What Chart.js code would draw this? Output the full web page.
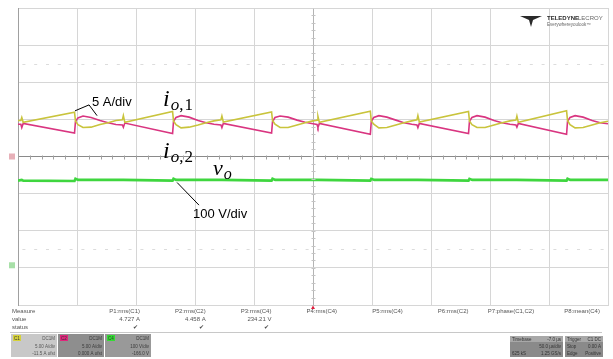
<!DOCTYPE html>
<html>
<head>
<meta charset="utf-8">
<script src="https://cdn.jsdelivr.net/npm/chart.js@4.4.1/dist/chart.umd.min.js"></script>
<style>
  html, body { margin: 0; padding: 0; background: #fff; }
  #scope { display: block; }
</style>
</head>
<body>
<canvas id="scope" width="613" height="359"></canvas>
<script>
// time axis in microseconds (50 us/div, 10 div), traces in screen divisions (8 div)
const timeUs = [
  0, 2.4, 3.2, 4.4, 47.9,
  48.7, 50.8, 55.1, 61.9, 69.5, 76.3, 83.0, 88.5, 89.3, 90.5, 131.0,
  131.8, 133.9, 138.2, 145.0, 152.6, 159.4, 166.1, 172.0, 172.8, 174.0, 214.9,
  215.7, 217.8, 222.1, 228.9, 236.5, 243.3, 250.0, 253.4, 254.2, 255.4, 298.6,
  299.4, 301.5, 305.8, 312.6, 320.2, 327.0, 333.7, 338.1, 338.9, 340.1, 381.8,
  382.6, 384.7, 389.0, 395.8, 403.4, 410.2, 416.9, 422.0, 422.8, 424.0, 464.9,
  465.7, 467.8, 472.1, 478.9, 486.5, 493.3, 500
];
// io,1 (C1, yellow)
const io1Div = [
  0.97, 0.97, 1.05, 0.92, 1.19,
  0.96, 0.86, 0.78, 0.79, 0.86, 0.91, 0.97, 0.99, 1.10, 0.92, 1.21,
  0.96, 0.86, 0.77, 0.79, 0.85, 0.91, 0.96, 0.99, 1.09, 0.93, 1.20,
  0.97, 0.87, 0.78, 0.78, 0.85, 0.91, 0.96, 0.98, 1.08, 0.92, 1.22,
  0.96, 0.87, 0.77, 0.78, 0.85, 0.91, 0.96, 0.99, 1.10, 0.93, 1.21,
  0.96, 0.86, 0.78, 0.78, 0.85, 0.91, 0.96, 0.98, 1.09, 0.92, 1.23,
  0.97, 0.86, 0.77, 0.78, 0.85, 0.91, 0.95
];
// io,2 (C2, pink)
const io2Div = [
  0.87, 0.87, 0.78, 0.89, 0.63,
  0.94, 1.04, 1.09, 1.05, 0.97, 0.91, 0.86, 0.85, 0.79, 0.90, 0.62,
  0.95, 1.05, 1.10, 1.06, 0.97, 0.91, 0.87, 0.85, 0.78, 0.89, 0.63,
  0.94, 1.05, 1.09, 1.06, 0.98, 0.92, 0.88, 0.86, 0.78, 0.89, 0.60,
  0.95, 1.05, 1.10, 1.06, 0.98, 0.91, 0.87, 0.85, 0.78, 0.89, 0.62,
  0.95, 1.05, 1.10, 1.06, 0.97, 0.91, 0.87, 0.85, 0.79, 0.89, 0.60,
  0.95, 1.05, 1.10, 1.06, 0.97, 0.91, 0.88
];
// vo (C4, green)
const timeVo = [0, 3.2, 4.4, 47.9, 48.7, 51, 89.3, 131.0, 131.8, 134, 172.8, 214.9, 215.7, 218,
  254.2, 298.6, 299.4, 302, 338.9, 381.8, 382.6, 385, 422.8, 464.9, 465.7, 468, 500];
const voDiv = [-0.65, -0.63, -0.65, -0.66, -0.60, -0.63, -0.63, -0.65, -0.60, -0.63, -0.63, -0.65, -0.60, -0.63,
  -0.63, -0.65, -0.60, -0.63, -0.63, -0.65, -0.60, -0.63, -0.63, -0.65, -0.60, -0.63, -0.63];

const measNames = ['P1:rms(C1)', 'P2:rms(C2)', 'P3:rms(C4)', 'P4:rms(C4)', 'P5:rms(C4)', 'P6:rms(C2)', 'P7:phase(C1,C2)', 'P8:mean(C4)'];
const measValues = ['4.727 A', '4.458 A', '234.21 V', '', '', '', '', ''];
const measStatus = ['\u2714', '\u2714', '\u2714', '', '', '', '', ''];

const channels = [
  { name: 'C1', color: '#d6d23a', bg: '#c8c8c8', rows: ['DC1M', '5.00 A/div', '-11.5 A ofst'] },
  { name: 'C2', color: '#e0267c', bg: '#8e8e8e', rows: ['DC1M', '5.00 A/div', '0.000 A ofst'] },
  { name: 'C4', color: '#33dd33', bg: '#999999', rows: ['DC1M', '100 V/div', '-166.0 V'] }
];

function pts(xs, ys) {
  return xs.map((x, i) => ({ x: x, y: ys[i] }));
}

const scopeDecor = {
  id: 'scopeDecor',
  afterDraw(chart) {
    const ctx = chart.ctx;
    const a = chart.chartArea;
    const xs = chart.scales.x, ys = chart.scales.y;
    const X = v => xs.getPixelForValue(v), Y = v => ys.getPixelForValue(v);
    ctx.save();

    // minor ticks on the centre cross
    ctx.lineWidth = 1;
    const cy = Math.round(Y(0)) + 0.5, cx = Math.round(X(250)) + 0.5;
    ctx.strokeStyle = '#a0a0a0';
    ctx.beginPath();
    for (let t = 0; t <= 500; t += 10) {
      const px = Math.round(X(t)) + 0.5;
      ctx.moveTo(px, cy - 2); ctx.lineTo(px, cy + 2);
    }
    ctx.stroke();
    ctx.strokeStyle = '#c4c4c4';
    ctx.beginPath();
    for (let d = -4; d <= 4; d += 0.2) {
      const py = Math.round(Y(d)) + 0.5;
      ctx.moveTo(cx - 2, py); ctx.lineTo(cx + 2, py);
    }
    ctx.stroke();

    // faint dotted rows at +/- 2.5 div
    ctx.strokeStyle = '#dcdcdc';
    ctx.beginPath();
    [2.5, -2.5].forEach(d => {
      const py = Math.round(Y(d)) + 0.5;
      for (let t = 5; t < 500; t += 10) {
        const px = X(t);
        ctx.moveTo(px - 1.5, py); ctx.lineTo(px + 1.5, py);
      }
    });
    ctx.stroke();

    // annotations
    ctx.fillStyle = '#000';
    ctx.strokeStyle = '#000';
    ctx.lineWidth = 1;
    ctx.beginPath();
    ctx.moveTo(X(48.3), Y(1.23)); ctx.lineTo(X(60.2), Y(1.39)); ctx.lineTo(X(67), Y(1.10));
    ctx.moveTo(X(134.8), Y(-0.70)); ctx.lineTo(X(153.4), Y(-1.31));
    ctx.stroke();
    ctx.font = '13px "Liberation Sans", Arial, sans-serif';
    ctx.textBaseline = 'alphabetic';
    ctx.textAlign = 'left';
    ctx.fillText('5 A/div', X(62.7), Y(1.37));
    ctx.fillText('100 V/div', X(148.3), Y(-1.66));

    function mathLabel(main, sub, x, y, size) {
      const subSize = Math.round(size * 0.72);
      ctx.font = 'italic ' + size + 'px "Liberation Serif", "DejaVu Serif", serif';
      ctx.fillText(main, x, y);
      let cxp = x + ctx.measureText(main).width + 1;
      const parts = sub.split(',');
      parts.forEach((p, i) => {
        ctx.font = (/\d/.test(p) ? '' : 'italic ') + subSize + 'px "Liberation Serif", "DejaVu Serif", serif';
        ctx.fillText(p, cxp, y + 4);
        cxp += ctx.measureText(p).width;
        if (i < parts.length - 1) {
          ctx.font = subSize + 'px "Liberation Serif", serif';
          ctx.fillText(',', cxp, y + 4);
          cxp += ctx.measureText(',').width + 1;
        }
      });
    }
    mathLabel('i', 'o,1', X(122.9), Y(1.37), 24);
    mathLabel('i', 'o,2', X(122.9), Y(-0.03), 24);
    mathLabel('v', 'o', X(165.3), Y(-0.51), 22);

    // ground / offset markers on the left
    ctx.fillStyle = '#e7b0b8';
    ctx.fillRect(a.left - 9, Y(0) - 3, 6, 6);
    ctx.fillStyle = '#a8e0a8';
    ctx.fillRect(a.left - 9, Y(-2.93) - 3, 6, 6);

    // trigger marker
    ctx.fillStyle = '#e02040';
    ctx.beginPath();
    ctx.moveTo(X(250) - 2, a.bottom + 4); ctx.lineTo(X(250) + 2, a.bottom + 4); ctx.lineTo(X(250), a.bottom + 0.5);
    ctx.fill();

    // logo
    ctx.fillStyle = '#2a2a2a';
    const lx = a.right - 88, ly = a.top + 6;
    ctx.beginPath();
    ctx.moveTo(lx, ly + 2); ctx.lineTo(lx + 22, ly + 2); ctx.lineTo(lx + 13, ly + 6); ctx.lineTo(lx + 11, ly + 13); ctx.lineTo(lx + 9, ly + 6);
    ctx.closePath();
    ctx.fill();
    ctx.font = 'bold 6px "Liberation Sans", Arial, sans-serif';
    ctx.fillText('TELEDYNE', lx + 27, ly + 6);
    ctx.font = '6px "Liberation Sans", Arial, sans-serif';
    ctx.fillStyle = '#666';
    ctx.fillText('LECROY', lx + 58, ly + 6);
    ctx.font = '4.5px "Liberation Sans", Arial, sans-serif';
    ctx.fillText('Everywhereyoulook\u2122', lx + 27, ly + 12);

    // measurement table
    const by = a.bottom;
    ctx.font = '6px "Liberation Sans", Arial, sans-serif';
    ctx.fillStyle = '#555';
    ctx.textAlign = 'left';
    ctx.fillText('Measure', 12, by + 8);
    ctx.fillText('value', 12, by + 16);
    ctx.fillText('status', 12, by + 24);
    ctx.textAlign = 'right';
    measNames.forEach((n, i) => {
      const rx = 140 + i * 65.7;
      ctx.fillStyle = '#555';
      ctx.fillText(n, rx, by + 8);
      ctx.fillText(measValues[i], rx, by + 16);
      if (measStatus[i]) {
        ctx.fillStyle = '#444';
        ctx.fillText(measStatus[i], rx - 2, by + 24);
      }
    });
    ctx.strokeStyle = '#c8c8c8';
    ctx.beginPath();
    ctx.moveTo(10, by + 27.5); ctx.lineTo(602, by + 27.5);
    ctx.stroke();

    // channel boxes
    channels.forEach((c, i) => {
      const bx = 11 + i * 47, bt = by + 29;
      ctx.fillStyle = c.bg;
      ctx.fillRect(bx, bt, 46, 23);
      ctx.fillStyle = c.color;
      ctx.fillRect(bx + 2, bt + 1, 8, 6);
      ctx.fillStyle = '#333';
      ctx.font = '4.5px "Liberation Sans", Arial, sans-serif';
      ctx.textAlign = 'left';
      ctx.fillText(c.name, bx + 3, bt + 6);
      ctx.textAlign = 'right';
      ctx.fillStyle = i === 0 ? '#555' : '#3a3a3a';
      c.rows.forEach((r, k) => ctx.fillText(r, bx + 44, bt + 6 + k * 7.5));
    });

    // timebase and trigger boxes
    function infoBox(x, w, rowsL, rowsR) {
      const bt = by + 31;
      ctx.fillStyle = '#a8a8a8';
      ctx.fillRect(x, bt, w, 6);
      ctx.fillStyle = '#8a8a8a';
      ctx.fillRect(x, bt + 6, w, 15);
      ctx.fillStyle = '#333';
      ctx.font = '4.5px "Liberation Sans", Arial, sans-serif';
      rowsL.forEach((r, k) => { ctx.textAlign = 'left'; ctx.fillText(r, x + 2, bt + 5 + k * 7); });
      rowsR.forEach((r, k) => { ctx.textAlign = 'right'; ctx.fillText(r, x + w - 2, bt + 5 + k * 7); });
    }
    infoBox(510, 53, ['Timebase', '', '625 kS'], ['-7.0 \u00b5s', '50.0 \u00b5s/div', '1.25 GS/s']);
    infoBox(565, 38, ['Trigger', 'Stop', 'Edge'], ['C1 DC', '0.00 A', 'Positive']);

    ctx.restore();
  }
};

new Chart(document.getElementById('scope'), {
  type: 'line',
  data: {
    datasets: [
      { label: 'vo', data: pts(timeVo, voDiv), borderColor: '#3fd63f', borderWidth: 2.6 },
      { label: 'io1', data: pts(timeUs, io1Div), borderColor: '#c9c43c', borderWidth: 1.6 },
      { label: 'io2', data: pts(timeUs, io2Div), borderColor: '#d93580', borderWidth: 1.6 }
    ]
  },
  options: {
    responsive: false,
    animation: false,
    devicePixelRatio: 1,
    layout: { padding: { left: 18, right: 5, top: 8, bottom: 54 } },
    elements: { point: { radius: 0 }, line: { tension: 0 } },
    plugins: { legend: { display: false }, tooltip: { enabled: false } },
    scales: {
      x: {
        type: 'linear', min: 0, max: 500,
        ticks: { display: false, stepSize: 50 },
        grid: { drawTicks: false, color: c => c.tick.value === 250 ? '#b4b4b4' : '#d6d6d6' },
        border: { display: true, color: '#d6d6d6' }
      },
      y: {
        min: -4, max: 4,
        ticks: { display: false, stepSize: 1 },
        grid: { drawTicks: false, color: c => c.tick.value === 0 ? '#8a8a8a' : '#d6d6d6' },
        border: { display: true, color: '#a0a0a0' }
      }
    }
  },
  plugins: [scopeDecor]
});
</script>
</body>
</html>
